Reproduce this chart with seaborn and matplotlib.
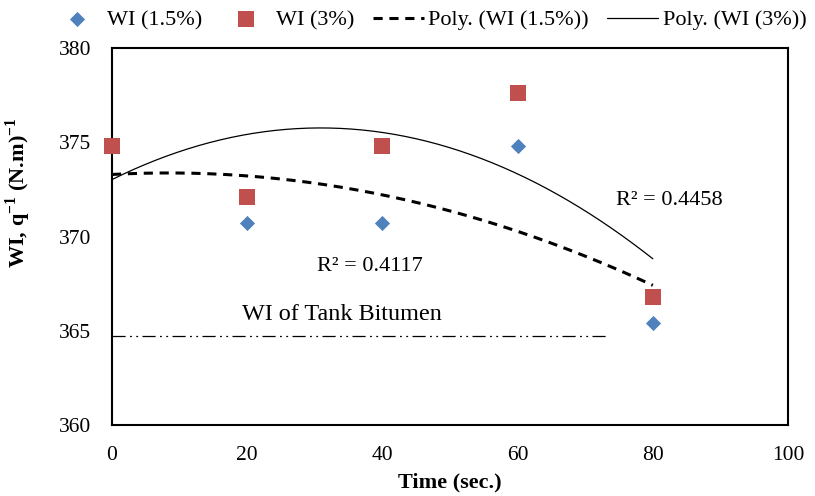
import numpy as np
import pandas as pd
import matplotlib
matplotlib.use("Agg")
import matplotlib.pyplot as plt
import seaborn as sns

time = [0, 20, 40, 60, 80]
wi_15 = [374.8, 370.7, 370.7, 374.8, 365.4]
wi_3 = [374.8, 372.1, 374.8, 377.6, 366.8]
tank_wi = 364.7
tank_x = [0, 73.4]
r2_15 = "R² = 0.4117"
r2_3 = "R² = 0.4458"

sns.set_theme(style="white")
plt.rcParams['font.family'] = ['Liberation Serif', 'DejaVu Serif']
plt.rcParams['mathtext.fontset'] = 'custom'
plt.rcParams['mathtext.rm'] = 'Liberation Serif'
plt.rcParams['mathtext.bf'] = 'Liberation Serif:bold'
plt.rcParams['text.color'] = 'black'
plt.rcParams['axes.labelcolor'] = 'black'
plt.rcParams['xtick.color'] = 'black'
plt.rcParams['ytick.color'] = 'black'

fig = plt.figure(figsize=(8.15, 4.96), dpi=100)
ax = fig.add_axes([0.1374, 0.1431, 0.8295, 0.7601])

blue = '#4F81BD'
red = '#C0504D'

xs = np.linspace(0, 80, 200)
p15 = np.polyfit(time, wi_15, 2)
p3 = np.polyfit(time, wi_3, 2)
fit = pd.DataFrame({'x': xs, 'y15': np.polyval(p15, xs), 'y3': np.polyval(p3, xs)})

df = pd.DataFrame({'t': time, 'a': wi_15, 'b': wi_3})
sns.scatterplot(data=df, x='t', y='a', marker='D', s=60, color=blue, edgecolor=blue,
                linewidth=0, ax=ax, zorder=3, label='WI (1.5%)', clip_on=False)
sns.scatterplot(data=df, x='t', y='b', marker='s', s=120, color=red, edgecolor=red,
                linewidth=0, ax=ax, zorder=4, label='WI (3%)', clip_on=False)
sns.lineplot(data=fit, x='x', y='y15', color='black', lw=2.2, ax=ax,
             label='Poly. (WI (1.5%))', zorder=2)
ax.lines[-1].set_dashes((3, 2.2))
sns.lineplot(data=fit, x='x', y='y3', color='black', lw=0.9, ax=ax,
             label='Poly. (WI (3%))', zorder=2)

tank = pd.DataFrame({'x': tank_x, 'y': [tank_wi, tank_wi]})
sns.lineplot(data=tank, x='x', y='y', color='black', lw=0.9, ax=ax, legend=False)
ax.lines[-1].set_dashes((10.5, 3.5, 1.5, 3.5, 1.5, 3.5))

ax.text(34, 365.84, 'WI of Tank Bitumen', ha='center', va='center', fontsize=17.4)
ax.text(38.2, 368.4, r2_15, ha='center', va='center', fontsize=16)
ax.text(82.5, 371.9, r2_3, ha='center', va='center', fontsize=16)

ax.set_xlim(0, 100)
ax.set_ylim(360, 380)
ax.set_xticks([0, 20, 40, 60, 80, 100])
ax.set_yticks([360, 365, 370, 375, 380])
ax.tick_params(axis='both', labelsize=15.5, length=0)
ax.tick_params(axis='y', pad=15)
ax.tick_params(axis='x', pad=15)
ax.set_xlabel('Time (sec.)', fontsize=16, fontweight='bold', va='center')
ax.xaxis.set_label_coords(0.5, (425 - 482) / 377.0)
ax.set_ylabel(r'WI, q$^{\mathbf{-1}}$ (N.m)$^{\mathbf{-1}}$', fontsize=16,
              fontweight='bold', va='center')
ax.yaxis.set_label_coords((18 - 112) / 676.0, (425 - 193) / 377.0)
for s in ax.spines.values():
    s.set_color('black')
    s.set_linewidth(1.5)

leg_y = 1.0 + (48 - 20) / 377.0
leg = ax.legend(loc='center', bbox_to_anchor=(0.5, leg_y), ncol=4,
                frameon=False, fontsize=16, handlelength=2.3, columnspacing=0.82,
                handletextpad=0.2, borderaxespad=0, borderpad=0)
fig.canvas.draw()
bb = leg.get_window_extent()
cx_target = 429.0
dx = cx_target - (bb.x0 + bb.x1) / 2.0
leg.set_bbox_to_anchor((0.5 + dx / 676.0, leg_y), transform=ax.transAxes)

fig.savefig('out.png', dpi=100)
